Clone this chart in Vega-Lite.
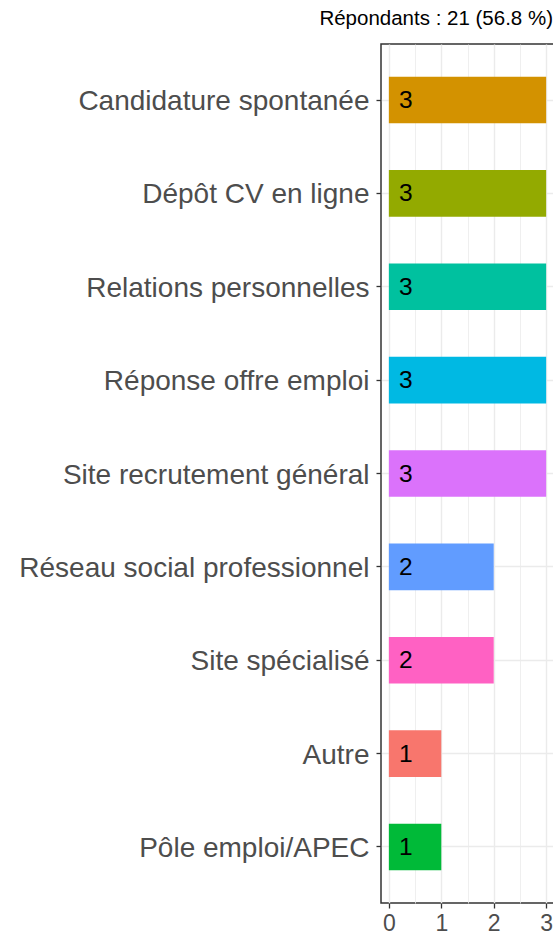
{
  "$schema": "https://vega.github.io/schema/vega-lite/v6.json",
  "autosize": "none",
  "width": 173,
  "height": 859,
  "padding": {"left": 381, "top": 44, "right": 0, "bottom": 36},
  "background": "white",
  "config": {
    "font": "Liberation Sans",
    "view": {"stroke": "#333333", "strokeWidth": 1.5},
    "axis": {"labelFont": "Liberation Sans"}
  },
  "title": {
    "text": "Répondants : 21 (56.8 %)",
    "anchor": "end",
    "fontSize": 20.5,
    "fontWeight": "normal",
    "color": "#000000",
    "font": "Liberation Sans",
    "offset": 15,
    "dx": -1
  },
  "data": {
    "values": [
      {"categorie": "Candidature spontanée", "n": 3},
      {"categorie": "Dépôt CV en ligne", "n": 3},
      {"categorie": "Relations personnelles", "n": 3},
      {"categorie": "Réponse offre emploi", "n": 3},
      {"categorie": "Site recrutement général", "n": 3},
      {"categorie": "Réseau social professionnel", "n": 2},
      {"categorie": "Site spécialisé", "n": 2},
      {"categorie": "Autre", "n": 1},
      {"categorie": "Pôle emploi/APEC", "n": 1}
    ]
  },
  "resolve": {"axis": {"x": "independent"}},
  "layer": [
    {
      "mark": {"type": "bar"},
      "encoding": {
        "y": {
          "field": "categorie",
          "type": "nominal",
          "sort": ["Candidature spontanée", "Dépôt CV en ligne", "Relations personnelles", "Réponse offre emploi", "Site recrutement général", "Réseau social professionnel", "Site spécialisé", "Autre", "Pôle emploi/APEC"],
          "scale": {"paddingInner": 0.5, "paddingOuter": 0.35},
          "axis": {
            "title": null,
            "domain": false,
            "grid": true,
            "bandPosition": 0.5,
            "gridColor": "#EBEBEB",
            "gridWidth": 1.4,
            "ticks": true,
            "tickColor": "#333333",
            "tickWidth": 1.3,
            "tickSize": 5,
            "labelFontSize": 28,
            "labelColor": "#4D4D4D",
            "labelPadding": 7,
            "labelOffset": 2,
            "labelLimit": 0
          }
        },
        "x": {
          "field": "n",
          "type": "quantitative",
          "scale": {"domain": [-0.15, 3.15], "nice": false, "zero": false},
          "axis": {
            "title": null,
            "values": [0, 1, 2, 3],
            "domain": false,
            "grid": true,
            "gridColor": "#EBEBEB",
            "gridWidth": 1.4,
            "tickColor": "#333333",
            "tickWidth": 1.3,
            "tickSize": 5,
            "labelFontSize": 23,
            "labelColor": "#4D4D4D",
            "labelPadding": 4,
            "format": "d"
          }
        },
        "color": {
          "field": "categorie",
          "type": "nominal",
          "legend": null,
          "scale": {
            "domain": ["Candidature spontanée", "Dépôt CV en ligne", "Relations personnelles", "Réponse offre emploi", "Site recrutement général", "Réseau social professionnel", "Site spécialisé", "Autre", "Pôle emploi/APEC"],
            "range": ["#D39200", "#93AA00", "#00C19F", "#00B9E3", "#DB72FB", "#619CFF", "#FF61C3", "#F8766D", "#00BA38"]
          }
        }
      }
    },
    {
      "mark": {"type": "text", "align": "center", "baseline": "middle", "dx": 17, "dy": 1, "fontSize": 24.5, "color": "#000000"},
      "encoding": {
        "y": {
          "field": "categorie",
          "type": "nominal",
          "sort": ["Candidature spontanée", "Dépôt CV en ligne", "Relations personnelles", "Réponse offre emploi", "Site recrutement général", "Réseau social professionnel", "Site spécialisé", "Autre", "Pôle emploi/APEC"]
        },
        "x": {
          "datum": 0,
          "type": "quantitative",
          "axis": {
            "orient": "top",
            "title": null,
            "values": [0.5, 1.5, 2.5],
            "grid": true,
            "gridColor": "#EBEBEB",
            "gridWidth": 0.8,
            "labels": false,
            "ticks": false,
            "domain": false
          }
        },
        "text": {"field": "n", "type": "quantitative"}
      }
    }
  ]
}
